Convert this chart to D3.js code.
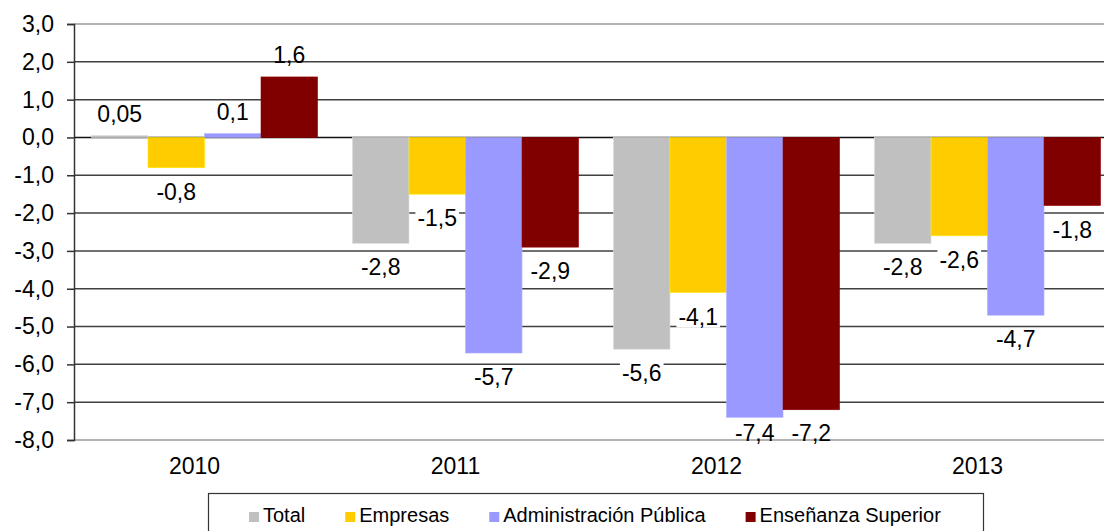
<!DOCTYPE html>
<html>
<head>
    <meta charset="utf-8">
    <style>
        body { margin: 0; background: #fff; }
        text { font-family: "Liberation Sans", Arial, sans-serif; fill: #000; }
        .grid line { stroke: #404040; stroke-width: 1.5; }
    </style>
    <script src="https://d3js.org/d3.v7.min.js"></script>
</head>
<body>

<svg width="1104" height="531"></svg>

<script>

    var years = ["2010", "2011", "2012", "2013"];
    var seriesNames = ["Total", "Empresas", "Administración Pública", "Enseñanza Superior"];
    var total = [0.05, -2.8, -5.6, -2.8];
    var empresas = [-0.8, -1.5, -4.1, -2.6];
    var administracion = [0.1, -5.7, -7.4, -4.7];
    var ensenanza = [1.6, -2.9, -7.2, -1.8];
    var yTicks = [3, 2, 1, 0, -1, -2, -3, -4, -5, -6, -7, -8];
    var colors = ["#c0c0c0", "#ffcc00", "#9999ff", "#800000"];

    var seriesValues = [total, empresas, administracion, ensenanza];

    var locale = d3.formatLocale({ decimal: ",", thousands: ".", grouping: [3], currency: ["", ""], minus: "-" });
    var tickFmt = locale.format(".1f");
    var labelFmt = locale.format(".2~f");

    var svg = d3.select("svg");

    // plot area (the right side is cut off by the picture)
    var plotLeft = 74, plotRight = 1118, plotTop = 24, plotBottom = 440;

    var x = d3.scaleBand()
        .domain(years)
        .range([plotLeft, plotRight])
        .paddingInner(0.134)
        .paddingOuter(0.067);

    var xInner = d3.scaleBand()
        .domain(seriesNames)
        .range([0, x.bandwidth()]);

    var y = d3.scaleLinear()
        .domain([-8, 3])
        .range([plotBottom, plotTop]);

    // gridlines
    var grid = svg.append("g").attr("class", "grid");
    grid.selectAll("line")
        .data(yTicks)
        .join("line")
        .attr("x1", plotLeft)
        .attr("x2", plotRight)
        .attr("y1", function(d) { return y(d); })
        .attr("y2", function(d) { return y(d); })
        .style("stroke", function(d) { return (d === 3 || d === -8) ? "#9a9a9a" : (d === 0 ? "#111" : null); });

    // bars
    var rows = [];
    years.forEach(function(yr, i) {
        seriesNames.forEach(function(s, j) {
            rows.push({ year: yr, series: s, value: seriesValues[j][i], color: colors[j] });
        });
    });

    svg.append("g")
        .selectAll("rect")
        .data(rows)
        .join("rect")
        .attr("x", function(d) { return x(d.year) + xInner(d.series); })
        .attr("width", xInner.bandwidth())
        .attr("y", function(d) { return y(Math.max(0, d.value)); })
        .attr("height", function(d) { return Math.abs(y(d.value) - y(0)); })
        .attr("fill", function(d) { return d.color; })
        .attr("stroke", function(d) { return d3.color(d.color).brighter(0.4); })
        .attr("stroke-width", 0.6);

    // y axis
    var yAxis = d3.axisLeft(y)
        .tickValues(yTicks)
        .tickFormat(tickFmt)
        .tickSize(7)
        .tickPadding(13);

    var yg = svg.append("g")
        .attr("transform", "translate(" + plotLeft + ",0)")
        .call(yAxis);
    yg.select(".domain").attr("stroke", "#333").attr("stroke-width", 1.5);
    yg.selectAll(".tick line").attr("stroke", "#333").attr("stroke-width", 1.5);
    yg.selectAll("text").style("font-size", "23px").attr("fill", "#000");

    // x axis labels
    var xAxis = d3.axisBottom(x).tickSize(0).tickPadding(18);
    var xg = svg.append("g")
        .attr("transform", "translate(0," + plotBottom + ")")
        .call(xAxis);
    xg.select(".domain").remove();
    xg.selectAll("text").style("font-size", "23px").attr("fill", "#000").attr("dx", -10);

    // data labels
    var labels = svg.append("g");
    rows.forEach(function(d) {
        var cx = x(d.year) + xInner(d.series) + xInner.bandwidth() / 2;
        var wanted = d.value >= 0 ? y(d.value) - 22 : y(d.value) + 24;
        var cy = Math.min(wanted, plotBottom - 7);
        var g = labels.append("g");
        var t = g.append("text")
            .attr("x", cx)
            .attr("y", cy)
            .attr("text-anchor", "middle")
            .attr("dominant-baseline", "central")
            .style("font-size", "23px")
            .text(labelFmt(d.value));
        if (d.value < 0 && cy === wanted) {
            var b = t.node().getBBox();
            g.insert("rect", "text")
                .attr("x", b.x - 2)
                .attr("y", b.y + 2)
                .attr("width", b.width + 4)
                .attr("height", b.height - 4)
                .attr("fill", "#fff");
        }
    });

    // legend
    var legend = svg.append("g");
    legend.append("rect")
        .attr("x", 208.5)
        .attr("y", 493.5)
        .attr("width", 775)
        .attr("height", 60)
        .attr("fill", "#fff")
        .attr("stroke", "#333")
        .attr("stroke-width", 1.2);

    var lx = 249;
    seriesNames.forEach(function(s, j) {
        legend.append("rect")
            .attr("x", lx)
            .attr("y", 512)
            .attr("width", 10)
            .attr("height", 10)
            .attr("fill", colors[j]);
        var t = legend.append("text")
            .attr("x", lx + 14)
            .attr("y", 522)
            .style("font-size", "20px")
            .text(s);
        lx += 14 + t.node().getComputedTextLength() + 40;
    });

</script>
</body>
</html>
